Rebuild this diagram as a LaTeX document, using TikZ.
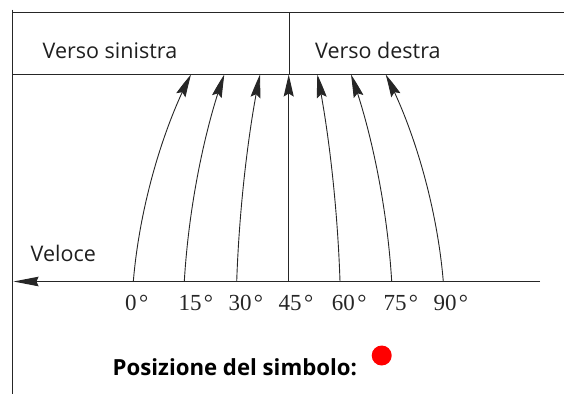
\documentclass[tikz,border=0pt]{standalone}
\usepackage{fontspec}
\setmainfont{Liberation Serif}
\newfontfamily\uifont{Open Sans}
\usetikzlibrary{arrows.meta,bending}
\begin{document}
\begin{tikzpicture}[x=1pt,y=-1pt,
  frame/.style={line width=1.2pt,black!85},
  flow/.style={line width=0.9pt,black!85,-{Stealth[length=22pt,width=10pt,inset=3pt,bend]}},
  lbl/.style={inner sep=0pt,anchor=base west,font=\uifont\fontsize{21.5}{24}\selectfont,text=black!88},
  deg/.style={inner sep=0pt,anchor=base west,font=\fontsize{23}{24}\selectfont,text=black!85}]
\useasboundingbox (0,0) rectangle (564,394);
% frame
\coordinate (tl) at (12.7,9.5);
\coordinate (bl) at (12.7,394);
\coordinate (tr) at (564,12.3);
\coordinate (tlh) at (12.7,12.3);
\coordinate (ml) at (12.7,74.5);
\coordinate (mr) at (564,74.5);
\coordinate (dtop) at (289.5,12.3);
\coordinate (dbot) at (289.5,74.5);
\draw[frame] (tl) -- (bl);
\draw[frame] (tlh) -- (tr);
\draw[frame] (ml) -- (mr);
\draw[frame] (dtop) -- (dbot);
% baseline
\coordinate (axr) at (540,281.5);
\coordinate (axl) at (13.5,281.5);
\draw[frame,-{Stealth[length=25pt,width=9.5pt,inset=2pt]}] (axr) -- (axl);
% flow lines
\foreach \i/\bx/\tx/\ca/\cb in {0/133.3/191/140.2/166.2, 1/184.3/224.3/189.1/207.1, 2/236.7/260/239.5/250.0, 4/340/317.3/337.3/327.1, 5/391.7/351/386.8/368.5, 6/443.3/385.7/436.4/410.5}{
  \coordinate (b\i) at (\bx,281.5);
  \coordinate (t\i) at (\tx,74.5);
  \draw[flow] (b\i) .. controls (\ca,200) and (\cb,121) .. (t\i);
}
\coordinate (b3) at (288.7,281.5);
\coordinate (t3) at (288.7,74.5);
\draw[flow,line width=1.1pt] (b3) -- (t3);
% texts
\node[lbl] (vs) at (42.5,58.3) {Verso sinistra};
\node[lbl] (vd) at (315,58.3) {Verso destra};
\node[lbl] (vel) at (30.5,261.7) {Veloce};
\foreach \i/\x/\v in {0/125/0,1/178.3/15,2/228.3/30,3/278.5/45,4/331.7/60,5/383.3/75,6/433.3/90}{
  \node[deg] (d\i) at (\x,310) {\v\kern2.5pt°};
}
\node[lbl,font=\uifont\bfseries\fontsize{22.2}{24}\selectfont,text=black] (pos) at (112.5,375) {Posizione del simbolo:};
\node[circle,fill=red,minimum size=20pt,inner sep=0pt] (dot) at (381.7,355.5) {};
\end{tikzpicture}
\end{document}
